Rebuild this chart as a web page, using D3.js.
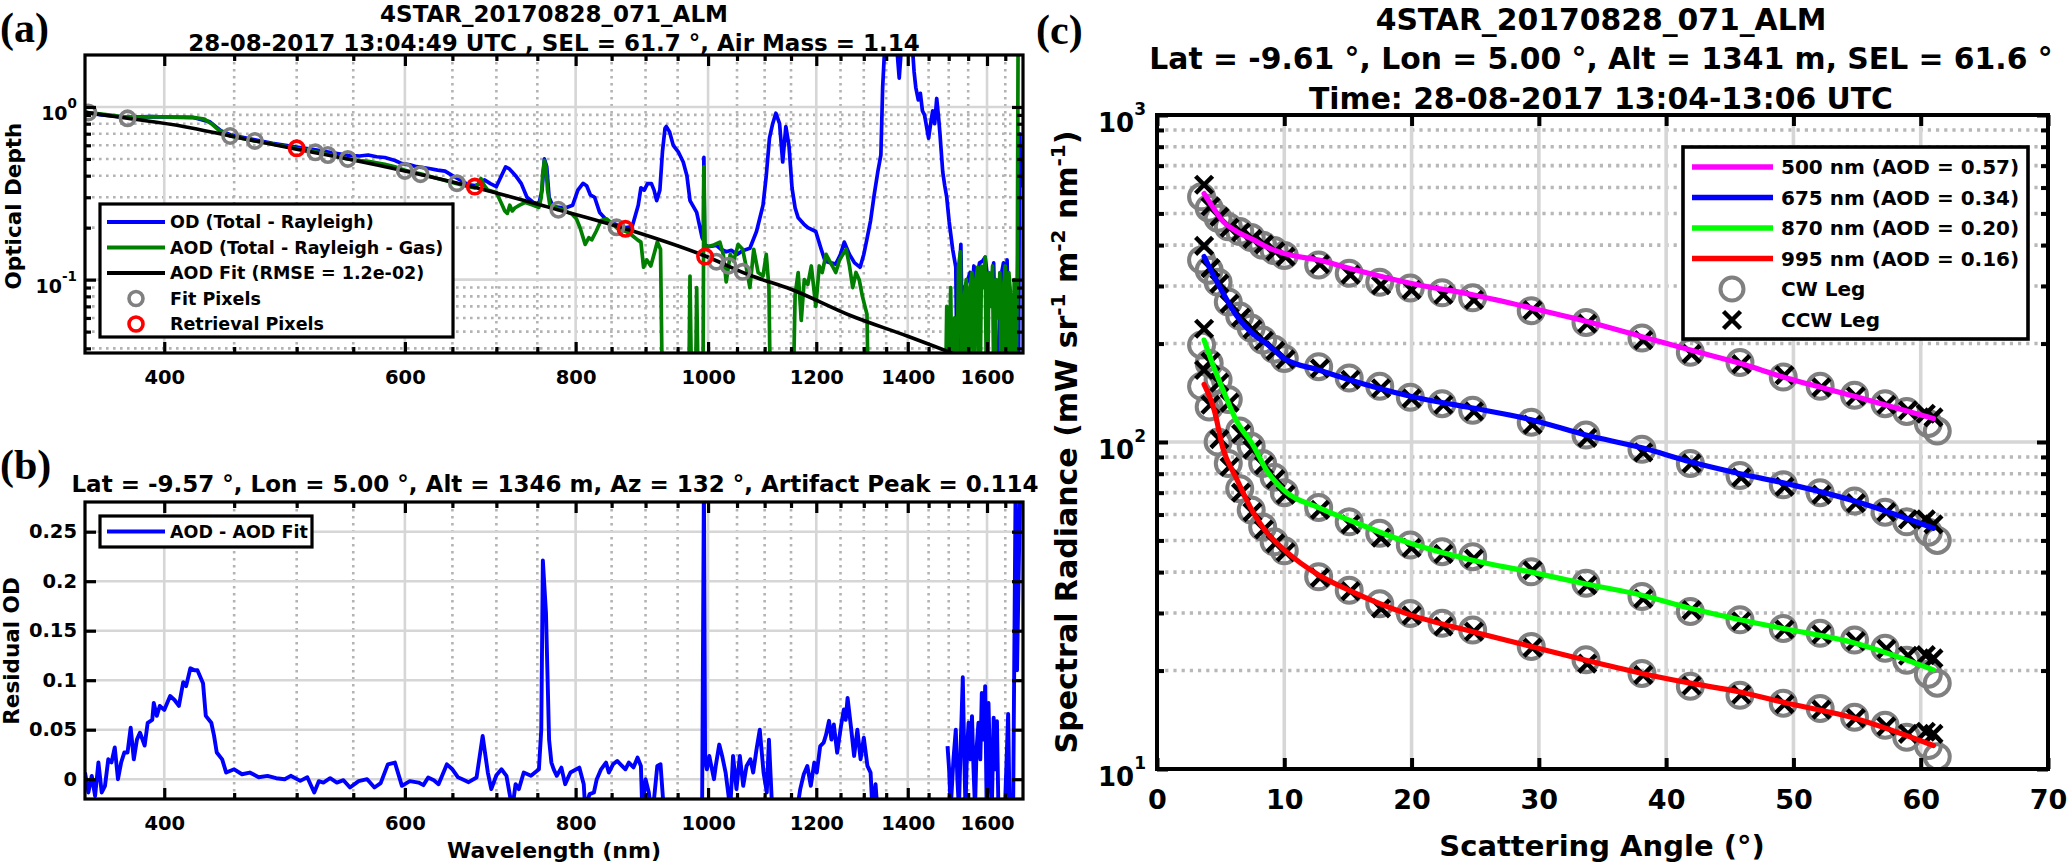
<!DOCTYPE html>
<html>
<head>
<meta charset="utf-8">
<script src="https://cdn.jsdelivr.net/npm/d3@7"></script>
<style>
  body { margin: 0; background: #fff; }
  text { font-family: "DejaVu Sans", Verdana, sans-serif; font-weight: bold; fill: #000; }
</style>
</head>
<body>
<svg id="fig" width="2067" height="865"></svg>
<script>
// ---- panel (a): spectra, [wavelength nm, optical depth] ----
const odSpectrum = [[350,0.93],[360,0.90],[376,0.87],[390,0.88],[405,0.875],[420,0.87],[432,0.82],[440,0.73],[447,0.69],[466,0.645],[480,0.615],[500,0.585],[516,0.565],[530,0.545],[545,0.525],[556,0.52],[564,0.527],[572,0.515],[580,0.51],[590,0.49],[597,0.47],[605,0.462],[612,0.451],[625,0.44],[634,0.431],[642,0.425],[650,0.40],[660,0.375],[667,0.355],[675,0.35],[681,0.36],[686,0.378],[693,0.36],[700,0.346],[706,0.40],[711,0.45],[715,0.44],[719,0.42],[723,0.40],[730,0.36],[737,0.30],[745,0.28],[752,0.275],[756,0.33],[759,0.50],[762,0.45],[765,0.30],[770,0.265],[786,0.26],[796,0.27],[803,0.33],[810,0.361],[815,0.35],[820,0.31],[826,0.30],[833,0.245],[843,0.221],[857,0.208],[871,0.20],[880,0.203],[889,0.27],[893,0.34],[898,0.33],[903,0.36],[909,0.36],[913,0.33],[917,0.287],[922,0.33],[926,0.55],[930,0.752],[932,0.77],[937,0.72],[943,0.60],[951,0.55],[959,0.48],[965,0.40],[970,0.287],[981,0.245],[990,0.175],[992,0.17],[993,0.51],[994,0.16],[1000,0.155],[1014,0.158],[1022,0.15],[1031,0.145],[1040,0.148],[1050,0.14],[1060,0.147],[1073,0.152],[1085,0.19],[1097,0.27],[1103,0.4],[1109,0.66],[1115,0.8],[1121,0.92],[1128,0.80],[1134,0.48],[1140,0.77],[1146,0.60],[1152,0.339],[1158,0.26],[1164,0.228],[1175,0.21],[1183,0.2],[1199,0.19],[1210,0.15],[1218,0.128],[1230,0.125],[1240,0.123],[1250,0.14],[1258,0.165],[1269,0.14],[1280,0.125],[1292,0.118],[1300,0.14],[1307,0.172],[1315,0.22],[1323,0.31],[1331,0.42],[1338,0.528],[1342,1.30],[1348,2.6],[1370,3],[1375,2.1],[1380,1.47],[1385,2.2],[1395,3],[1410,2.4],[1415,1.6],[1419,1.3],[1425,1.1],[1430,1.2],[1435,0.95],[1440,0.9],[1450,0.66],[1455,0.8],[1460,0.95],[1465,0.8],[1470,1.12],[1475,0.85],[1478,0.7],[1485,0.42],[1490,0.35],[1495,0.3],[1501,0.218],[1510,0.15],[1518,0.118],[1522,0.02],[1526,0.1],[1531,0.16],[1536,0.03],[1541,0.09],[1547,0.097],[1555,0.11],[1560,0.08],[1565,0.12],[1572,0.1],[1580,0.125],[1588,0.128],[1595,0.135],[1602,0.1],[1610,0.09],[1618,0.125],[1626,0.02],[1633,0.05],[1640,0.11],[1645,0.125],[1648,0.02],[1655,0.13],[1662,0.02],[1670,0.02],[1680,0.02],[1687,0.02],[1690,0.7],[1695,0.35],[1700,0.45]];

const aodSpectrum = [[350,0.93],[360,0.91],[370,0.885],[376,0.875],[385,0.875],[392,0.879],[400,0.875],[410,0.87],[421,0.867],[428,0.85],[433,0.80],[438,0.74],[443,0.70],[447,0.68],[466,0.635],[480,0.61],[500,0.575],[516,0.55],[530,0.525],[545,0.50],[556,0.49],[564,0.485],[580,0.465],[590,0.45],[600,0.43],[616,0.41],[634,0.385],[645,0.372],[655,0.36],[668,0.345],[675,0.34],[679,0.36],[682,0.385],[686,0.35],[690,0.33],[700,0.32],[707,0.27],[710,0.25],[713,0.242],[716,0.27],[719,0.25],[722,0.26],[728,0.27],[735,0.28],[745,0.27],[752,0.262],[755,0.30],[757,0.42],[759,0.49],[761,0.45],[763,0.33],[766,0.27],[775,0.26],[786,0.25],[795,0.24],[801,0.225],[806,0.20],[813,0.16],[818,0.175],[822,0.17],[828,0.19],[835,0.22],[843,0.225],[857,0.2],[871,0.19],[880,0.18],[888,0.17],[893,0.165],[897,0.118],[902,0.13],[908,0.12],[914,0.145],[918,0.165],[923,0.15],[927,0.01],[930,null],[965,null],[967,0.01],[970,0.105],[974,0.01],[978,0.01],[981,0.09],[985,0.01],[991,0.01],[993,0.45],[995,0.15],[998,0.155],[1008,0.158],[1020,0.165],[1026,0.14],[1031,0.097],[1038,0.14],[1044,0.128],[1052,0.16],[1060,0.15],[1066,0.12],[1073,0.09],[1080,0.15],[1088,0.11],[1097,0.105],[1103,0.14],[1108,0.09],[1112,0.01],[1115,null],[1150,null],[1152,0.01],[1158,0.082],[1164,0.11],[1170,0.058],[1176,0.1],[1183,0.094],[1190,0.12],[1199,0.07],[1206,0.12],[1212,0.11],[1220,0.14],[1226,0.13],[1233,0.12],[1240,0.11],[1248,0.13],[1255,0.14],[1262,0.15],[1269,0.12],[1276,0.09],[1283,0.11],[1290,0.1],[1297,0.08],[1307,0.063],[1312,0.01],[1318,null],[1485,null],[1490,0.01],[1495,0.07],[1500,0.02],[1505,0.09],[1510,0.01],[1515,0.06],[1520,0.02],[1525,0.12],[1530,0.145],[1535,0.01],[1540,0.08],[1545,0.1],[1550,0.01],[1555,0.09],[1560,0.11],[1565,0.02],[1570,0.1],[1575,0.118],[1580,0.01],[1585,0.12],[1590,0.09],[1595,0.135],[1600,0.01],[1605,0.11],[1610,0.07],[1615,0.12],[1620,0.01],[1625,0.1],[1630,0.06],[1635,0.11],[1640,0.01],[1645,0.09],[1650,0.12],[1655,0.01],[1660,0.11],[1665,0.08],[1670,0.01],[1675,0.1],[1680,0.02],[1684,0.14],[1686,2.5],[1700,2.5]];

const aodFit = [[350,0.931],[376,0.86],[414,0.769],[447,0.679],[496,0.576],[545,0.50],[600,0.426],[671,0.346],[772,0.257],[870,0.197],[995,0.137],[1073,0.106],[1150,0.088],[1271,0.062],[1400,0.047],[1507,0.0376],[1600,0.031]];
const fitPixels = [[352,0.93],[376,0.86],[447,0.679],[466,0.636],[516,0.546],[527,0.527],[545,0.50],[600,0.426],[616,0.408],[655,0.362],[777,0.254],[857,0.201],[1014,0.127],[1035,0.1205],[1060,0.111]];
const retrievalPixels = [[500,0.576],[675,0.346],[870,0.197],[995,0.136]];

// ---- panel (b): residual AOD - fit, [wavelength nm, residual] ----
const residual = [[350,0.0067],[352,-0.0134],[354,0.0033],[356,-0.017],[358,0.017],[360,-0.0134],[362,-0.0067],[364,0.0201],[366,0.017],[368,0.032],[370,0],[372,0.017],[374,0.027],[376,0.027],[378,0.052],[380,0.02],[382,0.04],[384,0.047],[387,0.034],[389,0.057],[392,0.06],[393,0.077],[395,0.064],[397,0.074],[400,0.07],[404,0.084],[407,0.08],[410,0.074],[413,0.098],[415,0.094],[418,0.112],[421,0.11],[423,0.11],[427,0.097],[429,0.064],[433,0.057],[435,0.044],[437,0.027],[441,0.02],[444,0.0067],[450,0.01],[456,0.005],[462,0.0067],[469,0.002],[476,0.0034],[483,0.001],[490,0],[495,0.0034],[503,-0.0017],[509,0.002],[515,-0.0134],[519,-0.002],[523,-0.0034],[529,0.001],[535,-0.0034],[541,-0.001],[547,-0.0084],[555,-0.002],[563,0],[570,-0.0084],[576,-0.004],[583,0.015],[590,0.0168],[597,-0.0067],[605,-0.002],[614,-0.0034],[619,-0.006],[624,0.0017],[630,-0.001],[635,-0.005],[644,0.015],[650,0.01],[656,0.002],[661,0],[668,-0.003],[677,0.0017],[684,0.0436],[690,0.0067],[694,-0.01],[700,0.004],[706,0.01],[712,0.0034],[719,-0.03],[723,-0.005],[727,-0.01],[733,0.0067],[742,0.0034],[752,0.01],[755,0.05],[757,0.221],[761,0.168],[765,0.04],[768,0.0168],[771,0.01],[775,0.0034],[781,0.0117],[786,-0.005],[793,0.0067],[801,0.01],[805,0.0117],[811,-0.005],[813,-0.03],[819,-0.015],[825,-0.0134],[829,0],[835,0.01],[842,0.0168],[846,0.0067],[852,0.015],[858,0.0184],[865,0.0134],[870,0.01],[875,0.0168],[882,0.012],[888,0.0218],[893,0.0134],[895,-0.03],[900,0],[905,-0.0134],[908,-0.03],[913,-0.02],[918,0.0134],[923,0.0151],[928,-0.03],[931,null],[987,null],[990,-0.03],[993,0.3],[995,0.0201],[998,0.01],[1002,0.0235],[1010,0],[1013,0.0134],[1019,0.035],[1024,0.0235],[1030,0.0067],[1038,-0.03],[1043,0.0235],[1049,-0.01],[1055,0.0235],[1061,-0.0067],[1067,0.0134],[1074,0.0201],[1079,0.0067],[1085,0.03],[1091,0.05],[1098,0.0067],[1104,-0.0134],[1108,0.04],[1114,-0.03],[1117,null],[1159,null],[1162,-0.03],[1168,-0.01],[1175,0.005],[1182,0.0134],[1189,-0.0067],[1196,0.0168],[1201,0.0067],[1208,0.0335],[1215,0.0369],[1220,0.045],[1226,0.059],[1231,0.04],[1236,0.0553],[1243,0.0268],[1251,0.0537],[1257,0.0704],[1261,0.06],[1265,0.082],[1272,0.0537],[1279,0.0235],[1286,0.05],[1293,0.0201],[1300,0.0419],[1308,0.0134],[1315,0.0067],[1319,-0.03],[1326,-0.005],[1330,-0.03],[1333,null],[1494,null],[1497,0.0335],[1501,0.01],[1505,-0.03],[1512,0.02],[1518,0.05],[1522,0.0],[1526,-0.03],[1531,0.04],[1536,0.103],[1540,0.02],[1543,-0.03],[1547,0.03],[1551,0.057],[1556,0.02],[1560,0.0637],[1564,0.01],[1568,-0.03],[1572,0.03],[1577,0.057],[1582,0.02],[1586,0.087],[1591,0.04],[1595,0.094],[1599,-0.03],[1604,0.077],[1609,0.0],[1613,-0.03],[1618,0.0621],[1622,0.01],[1627,0.0587],[1631,-0.03],[1640,-0.03],[1649,-0.03],[1658,0.066],[1662,-0.03],[1672,-0.03],[1679,0.3],[1683,0.11],[1692,0.3],[1700,0.3]];

// ---- panel (c): sky radiance vs scattering angle ----
const angCW  = [3.5, 4.1, 4.8, 5.6, 6.5, 7.4, 8.3, 9.2, 10.0, 12.7, 15.1, 17.5, 19.9, 22.4, 24.8, 29.4, 33.7, 38.1, 41.9, 45.8, 49.2, 52.1, 54.8, 57.2, 58.9, 60.6, 61.3];
const angCCW = [3.7, 4.2, 4.9, 5.7, 6.6, 7.5, 8.4, 9.3, 10.1, 12.8, 15.2, 17.6, 20.0, 22.5, 24.9, 29.5, 33.8, 38.2, 42.0, 45.9, 49.3, 52.2, 54.9, 57.3, 59.0, 60.4, 61.0];
const angFit = [3.7, 4.5, 5.2, 6.2, 7.6, 8.6, 10, 12.7, 15.1, 19.9, 24.8, 29.4, 33.7, 38.1, 41.9, 45.8, 49.2, 54.8, 61];

const cw500  = [562, 519, 483, 455, 440, 422, 400, 385, 372, 348, 328, 308, 296, 286, 276, 252, 232, 208, 188, 175, 158, 148, 139, 131, 124, 114, 108];
const ccw500 = [612, 525, 488, 452, 438, 418, 402, 383, 369, 350, 325, 302, 292, 282, 272, 253, 230, 205, 186, 173, 160, 147, 138, 130, 125, 122, 119];
const fit500 = [575, 515, 472, 442, 415, 395, 377, 360, 340, 306, 282, 257, 234, 210, 191, 174, 158, 138, 118];

const cw675  = [360, 335, 308, 268, 243, 223, 205, 192, 180, 170, 157, 148, 137, 131, 125, 115, 105, 95, 86, 79, 74, 70, 66, 61, 57, 53, 50];
const ccw675 = [398, 340, 305, 265, 240, 221, 204, 190, 179, 168, 155, 146, 136, 130, 124, 113, 103, 93, 86, 78, 73, 69, 65, 61, 58, 58, 56];
const fit675 = [369, 320, 285, 245, 213, 200, 180, 166, 155, 138, 127, 117, 105, 96, 87, 80, 75, 66, 54.5];

const cw870  = [198, 174, 155, 135, 108, 97, 86, 78, 70, 63, 57, 52.6, 48.4, 46.2, 44.6, 40.1, 37, 33.7, 30.3, 28.6, 26.9, 26, 24.8, 23.4, 21.5, 19.5, 18.3];
const ccw870 = [222, 176, 152, 132, 106, 95, 85, 77, 69, 62, 56, 51, 47.5, 45.5, 44, 40.5, 36.5, 33.2, 30.6, 28.3, 26.7, 25.8, 24.6, 23.3, 22.2, 22.3, 21.8];
const fit870 = [205, 168, 144, 117, 97, 82, 71, 63, 57.7, 49, 43.5, 40, 36.8, 34, 31, 28.6, 26.9, 24.3, 20.1];

const cw995  = [148, 128, 100, 86, 72, 62, 55, 49.5, 46.5, 38.7, 35.2, 32, 29.9, 27.9, 26.6, 23.7, 21.6, 19.6, 17.9, 16.8, 15.9, 15.3, 14.4, 13.6, 12.5, 11.8, 10.9];
const ccw995 = [166, 130, 102, 84, 70, 61, 54, 49, 46, 38.5, 35, 31, 29.5, 27.3, 26.3, 23.5, 21.0, 19.4, 18.0, 16.9, 15.8, 15.2, 14.3, 13.5, 12.8, 13.0, 12.8];
const fit995 = [150, 125, 95, 78, 60.5, 53, 46.8, 39.2, 35.2, 29.6, 26.3, 23.7, 21.5, 19.6, 18.3, 17.2, 16.0, 14.3, 11.8];

const radLabels = ['500 nm (AOD = 0.57)', '675 nm (AOD = 0.34)', '870 nm (AOD = 0.20)', '995 nm (AOD = 0.16)'];

// ---- tick values ----
const wlTicks = [400, 600, 800, 1000, 1200, 1400, 1600];
const odTicks = [0.1, 1];
const resTicks = [0, 0.05, 0.1, 0.15, 0.2, 0.25];
const angTicks = [0, 10, 20, 30, 40, 50, 60, 70];
const radTicks = [10, 100, 1000];

const wlMinor = d3.range(400, 1700, 50).filter(v => v % 200 !== 0);
const odMinor = d3.range(4, 10).map(k => k / 100).concat(d3.range(2, 10).map(k => k / 10));
const radMinor = d3.range(2, 10).map(k => k * 10).concat(d3.range(2, 10).map(k => k * 100));

const svg = d3.select('#fig');
const FONT = '"DejaVu Sans", Verdana, sans-serif';

const pa = {l: 85, t: 55, r: 1023, b: 353};
const pb = {l: 85, t: 502, r: 1023, b: 799};
const pc = {l: 1157, t: 115, r: 2048, b: 769};

const xA = d3.scaleLog().domain([350, 1700]).range([pa.l, pa.r]);
const yA = d3.scaleLog().domain([0.0376, 2]).range([pa.b, pa.t]);
const xB = d3.scaleLog().domain([350, 1700]).range([pb.l, pb.r]);
const yB = d3.scaleLinear().domain([-0.02, 0.28]).range([pb.b, pb.t]);
const xC = d3.scaleLinear().domain([0, 70]).range([pc.l, pc.r]);
const yC = d3.scaleLog().domain([10, 1000]).range([pc.b, pc.t]);

function addClip(id, p) {
  svg.append('clipPath').attr('id', id).append('rect')
    .attr('x', p.l).attr('y', p.t).attr('width', p.r - p.l).attr('height', p.b - p.t);
}
addClip('clipA', pa); addClip('clipB', pb); addClip('clipC', pc);

function drawGrid(p, x, y, xMaj, xMin, yMaj, yMin, st) {
  const g = svg.append('g');
  const inX = v => x(v) > p.l + 2 && x(v) < p.r - 2;
  const inY = v => y(v) > p.t + 2 && y(v) < p.b - 2;
  const vl = (vals, minor) => g.append('g').selectAll('line').data(vals.filter(inX)).join('line')
    .attr('x1', d => x(d)).attr('x2', d => x(d)).attr('y1', p.t).attr('y2', p.b)
    .attr('stroke', minor ? st.minor : st.major).attr('stroke-width', st.w)
    .attr('stroke-dasharray', minor ? st.dash : null);
  const hl = (vals, minor) => g.append('g').selectAll('line').data(vals.filter(inY)).join('line')
    .attr('y1', d => y(d)).attr('y2', d => y(d)).attr('x1', p.l).attr('x2', p.r)
    .attr('stroke', minor ? st.minor : st.major).attr('stroke-width', st.w)
    .attr('stroke-dasharray', minor ? st.dash : null);
  vl(xMin, true); hl(yMin, true); vl(xMaj, false); hl(yMaj, false);
}

function drawTicks(p, x, y, o) {
  const g = svg.append('g');
  const put = (axis, tx, ty) => g.append('g').attr('transform', `translate(${tx},${ty})`).call(axis)
    .call(s => s.select('.domain').remove())
    .call(s => s.selectAll('text').remove())
    .call(s => s.selectAll('line').attr('stroke', '#000').attr('stroke-width', o.w));
  [[o.xMaj, o.len], [o.xMin, o.lenMinor]].forEach(([vals, len]) => {
    if (!vals.length) return;
    put(d3.axisBottom(x).tickValues(vals).tickSizeInner(-len).tickSizeOuter(0), 0, p.b);
    put(d3.axisTop(x).tickValues(vals).tickSizeInner(-len).tickSizeOuter(0), 0, p.t);
  });
  [[o.yMaj, o.len], [o.yMin, o.lenMinor]].forEach(([vals, len]) => {
    if (!vals.length) return;
    put(d3.axisLeft(y).tickValues(vals).tickSizeInner(-len).tickSizeOuter(0), p.l, 0);
    put(d3.axisRight(y).tickValues(vals).tickSizeInner(-len).tickSizeOuter(0), p.r, 0);
  });
}

function box(p, w) {
  svg.append('rect').attr('x', p.l).attr('y', p.t).attr('width', p.r - p.l).attr('height', p.b - p.t)
    .attr('fill', 'none').attr('stroke', '#000').attr('stroke-width', w);
}

function xLabels(p, x, vals, fs, pad) {
  svg.append('g').attr('transform', `translate(0,${p.b})`)
    .call(d3.axisBottom(x).tickValues(vals).tickSize(0).tickPadding(pad).tickFormat(d3.format('d')))
    .call(s => s.select('.domain').remove())
    .attr('font-size', fs).attr('font-family', FONT).attr('font-weight', 'bold');
}

function powLabels(y, vals, xRight, fs, fsExp, dyBase, dyExp) {
  vals.forEach(v => {
    const t = svg.append('text').attr('x', xRight).attr('y', y(v) + dyBase)
      .attr('text-anchor', 'end').attr('font-size', fs);
    t.append('tspan').text('10');
    t.append('tspan').attr('dy', dyExp).attr('font-size', fsExp).text(Math.round(Math.log10(v)));
  });
}

const gridAB = {major: '#d6d6d6', minor: '#b3b3b3', w: 2.6, dash: '2.6,4.4'};
const gridC = {major: '#d6d6d6', minor: '#b8b8b8', w: 3.6, dash: '3.2,5'};

// ================= panel (a) =================
drawGrid(pa, xA, yA, wlTicks, wlMinor, odTicks, odMinor, gridAB);

const lineA = d3.line().defined(d => d[1] != null).x(d => xA(d[0])).y(d => yA(d[1]));
const dataA = svg.append('g').attr('clip-path', 'url(#clipA)');
dataA.append('path').datum(odSpectrum).attr('d', lineA).attr('fill', 'none').attr('stroke', '#0000ff').attr('stroke-width', 3.7).attr('stroke-linejoin', 'round');
dataA.append('path').datum(aodSpectrum).attr('d', lineA).attr('fill', 'none').attr('stroke', '#007f00').attr('stroke-width', 3.7).attr('stroke-linejoin', 'round');
dataA.append('path').datum(aodFit).attr('d', lineA.curve(d3.curveMonotoneX)).attr('fill', 'none').attr('stroke', '#000').attr('stroke-width', 3.6);
dataA.selectAll('.fitpix').data(fitPixels).join('circle').attr('class', 'fitpix')
  .attr('cx', d => xA(d[0])).attr('cy', d => yA(d[1])).attr('r', 7.2)
  .attr('fill', 'none').attr('stroke', '#808080').attr('stroke-width', 3.6);
dataA.selectAll('.retpix').data(retrievalPixels).join('circle').attr('class', 'retpix')
  .attr('cx', d => xA(d[0])).attr('cy', d => yA(d[1])).attr('r', 7.2)
  .attr('fill', 'none').attr('stroke', '#ff0000').attr('stroke-width', 3.6);

drawTicks(pa, xA, yA, {xMaj: wlTicks, xMin: wlMinor, yMaj: odTicks, yMin: odMinor, len: 11, lenMinor: 6, w: 3.2});
box(pa, 3.2);
xLabels(pa, xA, wlTicks, 19.5, 17);
powLabels(yA, odTicks, 77, 19, 13.5, 13, -12);

// legend (a)
const legA = svg.append('g');
legA.append('rect').attr('x', 100).attr('y', 204).attr('width', 353).attr('height', 133)
  .attr('fill', '#fff').attr('stroke', '#000').attr('stroke-width', 3.2);
const legARows = [
  {t: 'OD (Total - Rayleigh)', c: '#0000ff', kind: 'line'},
  {t: 'AOD (Total - Rayleigh - Gas)', c: '#007f00', kind: 'line'},
  {t: 'AOD Fit (RMSE = 1.2e-02)', c: '#000', kind: 'line'},
  {t: 'Fit Pixels', c: '#808080', kind: 'circle'},
  {t: 'Retrieval Pixels', c: '#ff0000', kind: 'circle'}
];
legARows.forEach((r, i) => {
  const yy = 222 + i * 25.5;
  if (r.kind === 'line') legA.append('line').attr('x1', 107).attr('x2', 165).attr('y1', yy).attr('y2', yy).attr('stroke', r.c).attr('stroke-width', 3.8);
  else legA.append('circle').attr('cx', 136).attr('cy', yy).attr('r', 7).attr('fill', 'none').attr('stroke', r.c).attr('stroke-width', 3.6);
  legA.append('text').attr('x', 170).attr('y', yy + 6.4).attr('font-size', 17.5).text(r.t);
});

// ================= panel (b) =================
drawGrid(pb, xB, yB, wlTicks, wlMinor, resTicks, [], gridAB);
const lineB = d3.line().defined(d => d[1] != null).x(d => xB(d[0])).y(d => yB(d[1]));
svg.append('g').attr('clip-path', 'url(#clipB)').append('path').datum(residual).attr('d', lineB)
  .attr('fill', 'none').attr('stroke', '#0000ff').attr('stroke-width', 3.9).attr('stroke-linejoin', 'round');
drawTicks(pb, xB, yB, {xMaj: wlTicks, xMin: wlMinor, yMaj: resTicks, yMin: [], len: 11, lenMinor: 6, w: 3.2});
box(pb, 3.2);
xLabels(pb, xB, wlTicks, 19.5, 17);
svg.append('g').attr('transform', `translate(${pb.l},0)`)
  .call(d3.axisLeft(yB).tickValues(resTicks).tickSize(0).tickPadding(8).tickFormat(d3.format('~g')))
  .call(s => s.select('.domain').remove())
  .attr('font-size', 19.5).attr('font-family', FONT).attr('font-weight', 'bold');

const legB = svg.append('g');
legB.append('rect').attr('x', 100).attr('y', 516).attr('width', 212).attr('height', 31)
  .attr('fill', '#fff').attr('stroke', '#000').attr('stroke-width', 3.2);
legB.append('line').attr('x1', 107).attr('x2', 165).attr('y1', 531.5).attr('y2', 531.5).attr('stroke', '#0000ff').attr('stroke-width', 3.8);
legB.append('text').attr('x', 170).attr('y', 538).attr('font-size', 17.5).text('AOD - AOD Fit');

// ================= panel (c) =================
drawGrid(pc, xC, yC, angTicks, [], radTicks, radMinor, gridC);
const series = [
  {cw: cw500, ccw: ccw500, fit: fit500, color: '#ff00ff', label: radLabels[0]},
  {cw: cw675, ccw: ccw675, fit: fit675, color: '#0000ff', label: radLabels[1]},
  {cw: cw870, ccw: ccw870, fit: fit870, color: '#00ff00', label: radLabels[2]},
  {cw: cw995, ccw: ccw995, fit: fit995, color: '#ff0000', label: radLabels[3]}
];
const dataC = svg.append('g').attr('clip-path', 'url(#clipC)');
const xMark = 'M-8.5,-8.5L8.5,8.5M-8.5,8.5L8.5,-8.5';
series.forEach(s => {
  dataC.append('g').selectAll('circle').data(s.cw).join('circle')
    .attr('cx', (d, i) => xC(angCW[i])).attr('cy', d => yC(d)).attr('r', 12.5)
    .attr('fill', 'none').attr('stroke', '#808080').attr('stroke-width', 4);
});
series.forEach(s => {
  dataC.append('g').selectAll('path').data(s.ccw).join('path')
    .attr('transform', (d, i) => `translate(${xC(angCCW[i])},${yC(d)})`).attr('d', xMark)
    .attr('stroke', '#000').attr('stroke-width', 4.5).attr('fill', 'none');
});
const lineC = d3.line().x((d, i) => xC(angFit[i])).y(d => yC(d)).curve(d3.curveMonotoneX);
series.forEach(s => {
  dataC.append('path').datum(s.fit).attr('d', lineC).attr('fill', 'none')
    .attr('stroke', s.color).attr('stroke-width', 5.2).attr('stroke-linecap', 'round');
});

drawTicks(pc, xC, yC, {xMaj: angTicks, xMin: [], yMaj: radTicks, yMin: radMinor, len: 11, lenMinor: 7, w: 4});
box(pc, 4);
xLabels(pc, xC, angTicks, 27, 21);
powLabels(yC, radTicks, 1146, 26, 17, 17, -17);

// legend (c)
const legC = svg.append('g');
legC.append('rect').attr('x', 1683).attr('y', 147).attr('width', 345).attr('height', 192)
  .attr('fill', '#fff').attr('stroke', '#000').attr('stroke-width', 3.6);
series.forEach((s, i) => {
  const yy = 167 + i * 30.5;
  legC.append('line').attr('x1', 1692).attr('x2', 1773).attr('y1', yy).attr('y2', yy).attr('stroke', s.color).attr('stroke-width', 5.5);
  legC.append('text').attr('x', 1781).attr('y', yy + 7.3).attr('font-size', 20).text(s.label);
});
legC.append('circle').attr('cx', 1732).attr('cy', 289).attr('r', 11.5).attr('fill', 'none').attr('stroke', '#808080').attr('stroke-width', 4);
legC.append('text').attr('x', 1781).attr('y', 296.3).attr('font-size', 20).text('CW Leg');
legC.append('path').attr('transform', 'translate(1732,320)').attr('d', xMark).attr('stroke', '#000').attr('stroke-width', 4.5);
legC.append('text').attr('x', 1781).attr('y', 327.3).attr('font-size', 20).text('CCW Leg');

// ================= titles & axis labels =================
const txt = (x, y, s, fs, anchor) => svg.append('text').attr('x', x).attr('y', y)
  .attr('font-size', fs).attr('text-anchor', anchor || 'middle').text(s);

txt(554, 21.5, '4STAR_20170828_071_ALM', 23);
txt(554, 50.5, '28-08-2017 13:04:49 UTC , SEL = 61.7 °, Air Mass = 1.14', 23);
txt(555, 491.5, 'Lat = -9.57 °, Lon = 5.00 °, Alt = 1346 m, Az = 132 °, Artifact Peak = 0.114', 23);
txt(1601, 29.5, '4STAR_20170828_071_ALM', 29.8);
txt(1601, 69, 'Lat = -9.61 °, Lon = 5.00 °, Alt = 1341 m, SEL = 61.6 °', 29.8);
txt(1601, 108.5, 'Time: 28-08-2017 13:04-13:06 UTC', 29.8);

txt(554, 858, 'Wavelength (nm)', 22);
txt(1602, 856, 'Scattering Angle (°)', 29);
txt(0, 0, 'Optical Depth', 21.5).attr('transform', 'translate(21,206) rotate(-90)');
txt(0, 0, 'Residual OD', 21.5).attr('transform', 'translate(19,651) rotate(-90)');

const ylab = svg.append('text').attr('transform', 'translate(1077,442) rotate(-90)')
  .attr('text-anchor', 'middle').attr('font-size', 30);
ylab.append('tspan').text('Spectral Radiance (mW sr');
ylab.append('tspan').attr('dy', -12).attr('font-size', 20).text('-1');
ylab.append('tspan').attr('dy', 12).text(' m');
ylab.append('tspan').attr('dy', -12).attr('font-size', 20).text('-2');
ylab.append('tspan').attr('dy', 12).text(' nm');
ylab.append('tspan').attr('dy', -12).attr('font-size', 20).text('-1');
ylab.append('tspan').attr('dy', 12).text(')');

// panel letters
['(a)', '(b)', '(c)'].forEach((s, i) => {
  svg.append('text').attr('x', [0, 0, 1036][i]).attr('y', [42, 479, 44][i])
    .style('font-family', '"Liberation Serif", "Times New Roman", serif')
    .attr('font-size', 42).text(s);
});
</script>
</body>
</html>
